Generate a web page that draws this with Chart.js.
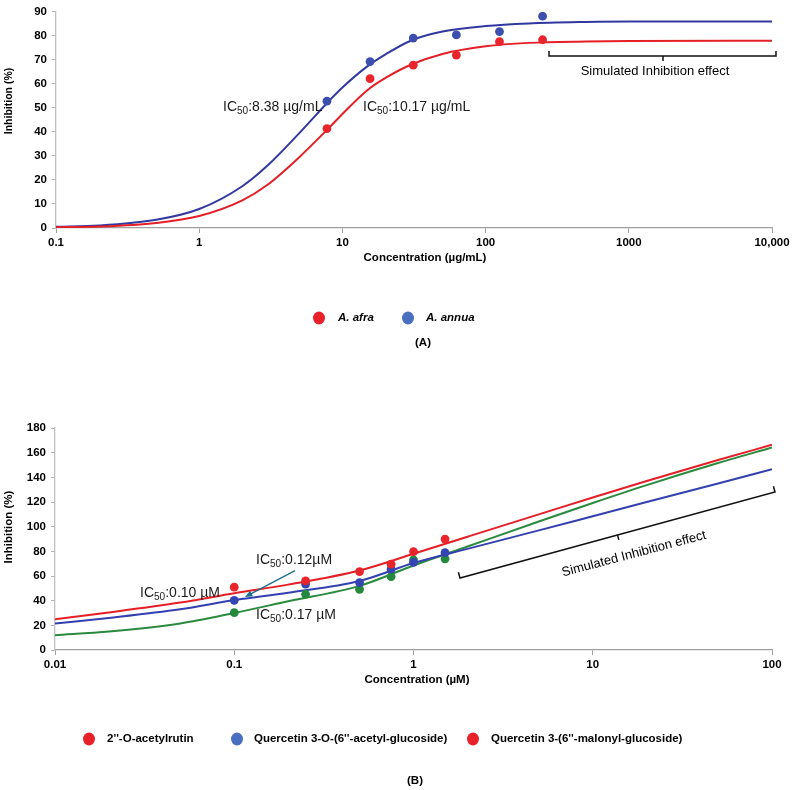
<!DOCTYPE html>
<html>
<head>
<meta charset="utf-8">
<script src="https://cdn.jsdelivr.net/npm/chart.js@4.4.1/dist/chart.umd.min.js"></script>
<style>
  body { margin: 0; background: #fff; }
  #wrap { position: relative; width: 794px; height: 790px; }
  canvas { position: absolute; left: 0; }
</style>
</head>
<body>
<div id="wrap">
  <canvas id="chartA" width="794" height="360" style="top:0"></canvas>
  <canvas id="chartB" width="794" height="390" style="top:400px"></canvas>
</div>
<script>
// (A) measured points
var concA = [7.8, 15.6, 31.25, 62.5, 125, 250];
var afraPts = [41.4, 62.2, 67.8, 72.0, 77.6, 78.4];
var annuaPts = [52.8, 69.3, 79.1, 80.4, 81.8, 88.2];
// (A) fitted curves
var fitConcA = [0.1, 0.2, 0.5, 1, 2, 3, 5, 8, 10, 15, 20, 30, 50, 100, 200, 500, 1000, 10000];
var afraFit = [0.3, 0.6, 2.1, 5.0, 11.5, 18, 29.5, 41.5, 47.5, 57.5, 62.5, 68, 72.5, 75.7, 77.1, 77.7, 77.9, 78];
var annuaFit = [0.5, 1.0, 3.4, 7.9, 17.4, 26, 39.5, 52.7, 58.5, 67.4, 72.3, 78, 81.8, 84.1, 85.2, 85.8, 86, 86];
var ticksA = [0.1, 1, 10, 100, 1000, 10000];
var tickLabelsA = ['0.1', '1', '10', '100', '1000', '10,000'];

// (B) measured points
var concB = [0.1, 0.25, 0.5, 0.75, 1, 1.5];
var rutinPts = [50.9, 56.0, 63.6, 69.6, 79.8, 89.9];
var acetylPts = [40.3, 53.5, 54.7, 65.5, 71.0, 79.0];
var malonylPts = [30.3, 45.2, 49.2, 59.5, 73.1, 73.9];
// (B) fitted curves
var fitConcB = [0.01, 0.02, 0.05, 0.1, 0.2, 0.5, 1, 2, 5, 10, 20, 50, 100];
var rutinFit = [25, 30.5, 38.5, 46, 53, 64.5, 78, 91.8, 110, 123.7, 137, 154, 166.4];
var acetylFit = [21.5, 26, 33, 40.5, 46.5, 56, 70.5, 82, 97, 108.5, 120, 135, 146.5];
var malonylFit = [12, 15, 21.5, 30, 39.5, 52, 68.5, 83.9, 104.2, 119.2, 133.7, 151.6, 164.2];
var ticksB = [0.01, 0.1, 1, 10, 100];
var tickLabelsB = ['0.01', '0.1', '1', '10', '100'];

var FONT = '"Liberation Sans", Arial, sans-serif';
Chart.defaults.font.family = FONT;
Chart.defaults.color = '#000';

function xy(xs, ys) {
  return xs.map(function (x, i) { return { x: x, y: ys[i] }; });
}

function pointSet(data, color) {
  return { data: data, showLine: false, pointRadius: 4.4, pointHoverRadius: 4.4,
           backgroundColor: color, borderColor: color, borderWidth: 0, order: 0 };
}
function lineSet(data, color) {
  return { data: data, showLine: true, pointRadius: 0, borderColor: color, borderWidth: 2,
           cubicInterpolationMode: 'monotone', fill: false, order: 1 };
}

function drawIC(ctx, x, y, rest, size) {
  ctx.save();
  ctx.fillStyle = '#1a1a1a';
  ctx.textAlign = 'left';
  ctx.textBaseline = 'alphabetic';
  ctx.font = size + 'px ' + FONT;
  ctx.fillText('IC', x, y);
  var w = ctx.measureText('IC').width;
  ctx.font = (size * 0.72) + 'px ' + FONT;
  ctx.fillText('50', x + w, y + 3);
  w += ctx.measureText('50').width;
  ctx.font = size + 'px ' + FONT;
  ctx.fillText(rest, x + w, y);
  ctx.restore();
}

function text(ctx, s, x, y, font, align) {
  ctx.save();
  ctx.font = font;
  ctx.fillStyle = '#000';
  ctx.textAlign = align || 'center';
  ctx.textBaseline = 'middle';
  ctx.fillText(s, x, y);
  ctx.restore();
}

function dot(ctx, x, y, color) {
  ctx.save();
  ctx.fillStyle = color;
  ctx.beginPath();
  ctx.ellipse(x, y, 6, 6.5, 0, 0, Math.PI * 2);
  ctx.fill();
  ctx.restore();
}

function yTitle(ctx, s, x, y, size) {
  ctx.save();
  ctx.translate(x, y);
  ctx.rotate(-Math.PI / 2);
  ctx.font = 'bold ' + size + 'px ' + FONT;
  ctx.fillStyle = '#000';
  ctx.textAlign = 'center';
  ctx.textBaseline = 'middle';
  ctx.fillText(s, 0, 0);
  ctx.restore();
}

function scales(xmin, xmax, ticks, labels, ymax, ystep, yWidth, xHeight) {
  return {
    x: {
      type: 'logarithmic', min: xmin, max: xmax,
      afterBuildTicks: function (s) { s.ticks = ticks.map(function (v) { return { value: v }; }); },
      afterFit: function (s) { s.height = xHeight; },
      grid: { drawOnChartArea: false, drawTicks: true, tickLength: 5, color: '#a0a0a0' },
      border: { color: '#a0a0a0', width: 1.3 },
      ticks: { autoSkip: false, maxRotation: 0, padding: 3, color: '#000',
               font: { size: 11.5, weight: 'bold' },
               callback: function (v, i) { return labels[i]; } }
    },
    y: {
      min: 0, max: ymax,
      afterFit: function (s) { s.width = yWidth; },
      grid: { drawOnChartArea: false, drawTicks: true, tickLength: 4, color: '#b0b0b0' },
      border: { color: '#c0c0c0', width: 1.3 },
      ticks: { stepSize: ystep, padding: 5, color: '#000', font: { size: 11.5, weight: 'bold' } }
    }
  };
}

// ---------- chart A ----------
var annotA = {
  id: 'annotA',
  afterDraw: function (chart) {
    var ctx = chart.ctx;
    drawIC(ctx, 223, 111, ':8.38 \u00b5g/mL', 14);
    drawIC(ctx, 363, 111, ':10.17 \u00b5g/mL', 14);
    // bracket
    ctx.save();
    ctx.strokeStyle = '#111';
    ctx.lineWidth = 1.5;
    ctx.beginPath();
    ctx.moveTo(549, 51); ctx.lineTo(549, 56); ctx.lineTo(776, 56); ctx.lineTo(776, 51);
    ctx.moveTo(663, 56); ctx.lineTo(663, 61);
    ctx.stroke();
    ctx.restore();
    text(ctx, 'Simulated Inhibition effect', 655, 71, '13px ' + FONT);
    yTitle(ctx, 'Inhibition (%)', 9, 101, 10.5);
    text(ctx, 'Concentration (\u00b5g/mL)', 425, 258, 'bold 11.5px ' + FONT);
    dot(ctx, 319, 318, '#e8212a');
    text(ctx, 'A. afra', 338, 318, 'italic bold 11.5px ' + FONT, 'left');
    dot(ctx, 408, 318, '#4a6fc0');
    text(ctx, 'A. annua', 426, 318, 'italic bold 11.5px ' + FONT, 'left');
    text(ctx, '(A)', 423, 343, 'bold 11.5px ' + FONT);
  }
};

new Chart(document.getElementById('chartA'), {
  type: 'scatter',
  data: {
    datasets: [
      pointSet(xy(concA, afraPts), '#e8252b'),
      pointSet(xy(concA, annuaPts), '#3c4fae'),
      lineSet(xy(fitConcA, afraFit), '#e41f26'),
      lineSet(xy(fitConcA, annuaFit), '#3139a0')
    ]
  },
  options: {
    responsive: false,
    animation: false,
    layout: { padding: { left: 0, right: 22, top: 8, bottom: 0 } },
    plugins: { legend: { display: false }, tooltip: { enabled: false } },
    scales: scales(0.1, 10000, ticksA, tickLabelsA, 90, 10, 56, 132)
  },
  plugins: [annotA]
});

// ---------- chart B ----------
var annotB = {
  id: 'annotB',
  afterDraw: function (chart) {
    var ctx = chart.ctx;
    drawIC(ctx, 140, 197, ':0.10 \u00b5M', 14);
    drawIC(ctx, 256, 164, ':0.12\u00b5M', 14);
    drawIC(ctx, 256, 219, ':0.17 \u00b5M', 14);
    // arrow
    ctx.save();
    ctx.strokeStyle = '#1d6e8c';
    ctx.fillStyle = '#1d6e8c';
    ctx.lineWidth = 1.3;
    var x1 = 295, y1 = 170.7, x2 = 245, y2 = 197;
    var a = Math.atan2(y2 - y1, x2 - x1);
    ctx.beginPath();
    ctx.moveTo(x1, y1);
    ctx.lineTo(x2 - 5 * Math.cos(a), y2 - 5 * Math.sin(a));
    ctx.stroke();
    ctx.beginPath();
    ctx.moveTo(x2, y2);
    ctx.lineTo(x2 - 8 * Math.cos(a - 0.4), y2 - 8 * Math.sin(a - 0.4));
    ctx.lineTo(x2 - 8 * Math.cos(a + 0.4), y2 - 8 * Math.sin(a + 0.4));
    ctx.closePath();
    ctx.fill();
    ctx.restore();
    // tilted bracket
    var bx = 460, by = 178, ex = 775, ey = 92;
    var ang = Math.atan2(ey - by, ex - bx);
    var len = Math.sqrt((ex - bx) * (ex - bx) + (ey - by) * (ey - by));
    ctx.save();
    ctx.translate(bx, by);
    ctx.rotate(ang);
    ctx.strokeStyle = '#111';
    ctx.lineWidth = 1.5;
    ctx.beginPath();
    ctx.moveTo(0, -6); ctx.lineTo(0, 0); ctx.lineTo(len, 0); ctx.lineTo(len, -6);
    ctx.moveTo(len / 2, 0); ctx.lineTo(len / 2, 5);
    ctx.stroke();
    ctx.restore();
    ctx.save();
    ctx.translate(634, 154);
    ctx.rotate(-14.8 * Math.PI / 180);
    ctx.font = '13px ' + FONT;
    ctx.fillStyle = '#000';
    ctx.textAlign = 'center';
    ctx.textBaseline = 'middle';
    ctx.fillText('Simulated Inhibition effect', 0, 0);
    ctx.restore();
    yTitle(ctx, 'Inhibition (%)', 9, 127, 11.5);
    text(ctx, 'Concentration (\u00b5M)', 417, 280, 'bold 11.5px ' + FONT);
    dot(ctx, 89, 339, '#e8212a');
    text(ctx, '2\'\'-O-acetylrutin', 107, 339, 'bold 11.5px ' + FONT, 'left');
    dot(ctx, 237, 339, '#4a6fc0');
    text(ctx, 'Quercetin 3-O-(6\'\'-acetyl-glucoside)', 254, 339, 'bold 11.5px ' + FONT, 'left');
    dot(ctx, 473, 339, '#e8212a');
    text(ctx, 'Quercetin 3-(6\'\'-malonyl-glucoside)', 491, 339, 'bold 11.5px ' + FONT, 'left');
    text(ctx, '(B)', 415, 381, 'bold 11.5px ' + FONT);
  }
};

new Chart(document.getElementById('chartB'), {
  type: 'scatter',
  data: {
    datasets: [
      pointSet(xy(concB, rutinPts), '#e8252b'),
      pointSet(xy(concB, acetylPts), '#3444b2'),
      pointSet(xy(concB, malonylPts), '#24893a'),
      lineSet(xy(fitConcB, rutinFit), '#e41f26'),
      lineSet(xy(fitConcB, acetylFit), '#3340b0'),
      lineSet(xy(fitConcB, malonylFit), '#2a8a3e')
    ]
  },
  options: {
    responsive: false,
    animation: false,
    layout: { padding: { left: 0, right: 22, top: 28, bottom: 0 } },
    plugins: { legend: { display: false }, tooltip: { enabled: false } },
    scales: scales(0.01, 100, ticksB, tickLabelsB, 180, 20, 55, 140)
  },
  plugins: [annotB]
});
</script>
</body>
</html>
